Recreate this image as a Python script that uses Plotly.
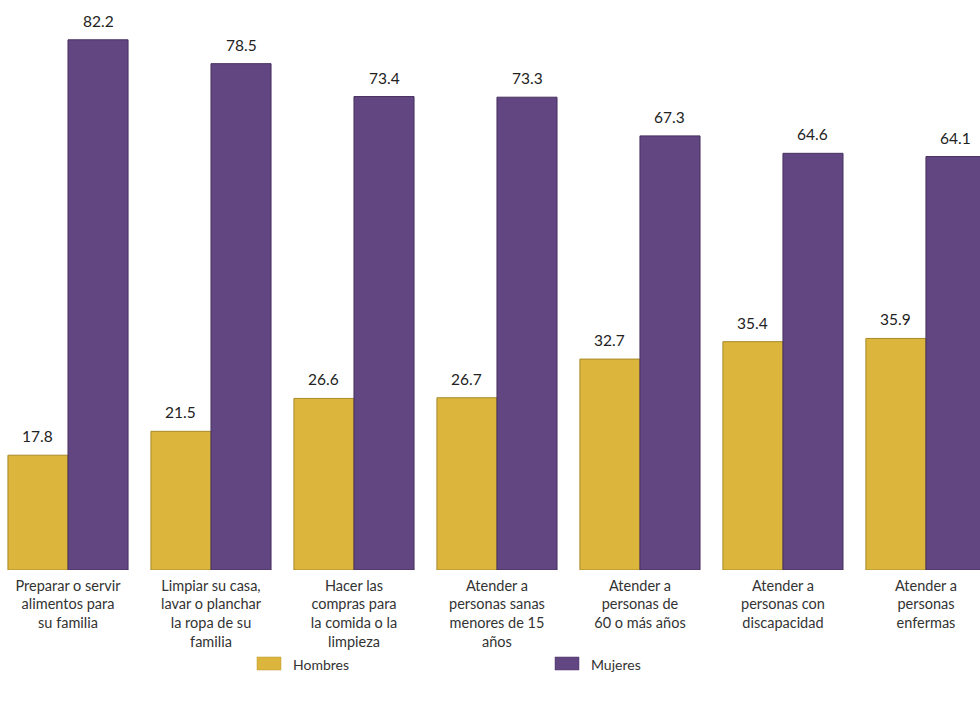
import plotly.graph_objects as go

categorias = [
    "Preparar o servir<br>alimentos para<br>su familia",
    "Limpiar su casa,<br>lavar o planchar<br>la ropa de su<br>familia",
    "Hacer las<br>compras para<br>la comida o la<br>limpieza",
    "Atender a<br>personas sanas<br>menores de 15<br>años",
    "Atender a<br>personas de<br>60 o más años",
    "Atender a<br>personas con<br>discapacidad",
    "Atender a<br>personas<br>enfermas",
]
hombres = [17.8, 21.5, 26.6, 26.7, 32.7, 35.4, 35.9]
mujeres = [82.2, 78.5, 73.4, 73.3, 67.3, 64.6, 64.1]
series = [("Hombres", hombres, "#DBB53C", "#A88A2A"),
          ("Mujeres", mujeres, "#614681", "#46305F")]

FONT = "Lato"
TEXT = "#333333"
x_idx = list(range(len(categorias)))
BAR_OFFSET = 0.21  # half of one bar's width in category units

fig = go.Figure()
for name, vals, fill, edge in series:
    fig.add_trace(go.Bar(
        name=name, x=x_idx, y=vals,
        marker=dict(color=fill, line=dict(color=edge, width=1)),
        showlegend=False, cliponaxis=False,
    ))

# value labels above each bar
annotations = []
for k, (name, vals, fill, edge) in enumerate(series):
    off = -BAR_OFFSET if k == 0 else BAR_OFFSET
    for i, v in zip(x_idx, vals):
        annotations.append(dict(
            x=i + off, y=v, xref="x", yref="y", text=f"{v:.1f}",
            showarrow=False, yanchor="bottom", yshift=8,
            font=dict(family=FONT, size=15.5, color="#222222"),
        ))

# legend drawn as swatches with labels
legend_items = [("Hombres", 257, "#DBB53C", "#B8982F"), ("Mujeres", 555, "#614681", "#4E376A")]
shapes = []
for label, px, fill, edge in legend_items:
    shapes.append(dict(
        type="rect", xref="paper", yref="paper",
        x0=px / 980, x1=(px + 24) / 980,
        y0=(570 - 670) / 570, y1=(570 - 657) / 570,
        fillcolor=fill, line=dict(color=edge, width=0.5),
    ))
    annotations.append(dict(
        x=(px + 34) / 980, y=(570 - 664) / 570, xref="paper", yref="paper",
        text=label, showarrow=False, xanchor="left", yanchor="middle",
        font=dict(family=FONT, size=14, color=TEXT),
    ))

fig.update_layout(
    width=980, height=706,
    margin=dict(l=0, r=0, t=0, b=136),
    paper_bgcolor="white", plot_bgcolor="white",
    barmode="group", bargap=0.16, bargroupgap=0,
    font=dict(family=FONT, color=TEXT),
    showlegend=False,
    xaxis=dict(
        range=[-0.4755, 6.378], tickmode="array", tickvals=x_idx,
        ticktext=categorias, tickfont=dict(family=FONT, size=14.5, color=TEXT),
        showgrid=False, zeroline=False, showline=False, ticks="",
        ticklabelstandoff=5,
    ),
    yaxis=dict(range=[0, 88.37], visible=False, showgrid=False, zeroline=False),
    annotations=annotations,
    shapes=shapes,
)

fig.write_html("out.html")
